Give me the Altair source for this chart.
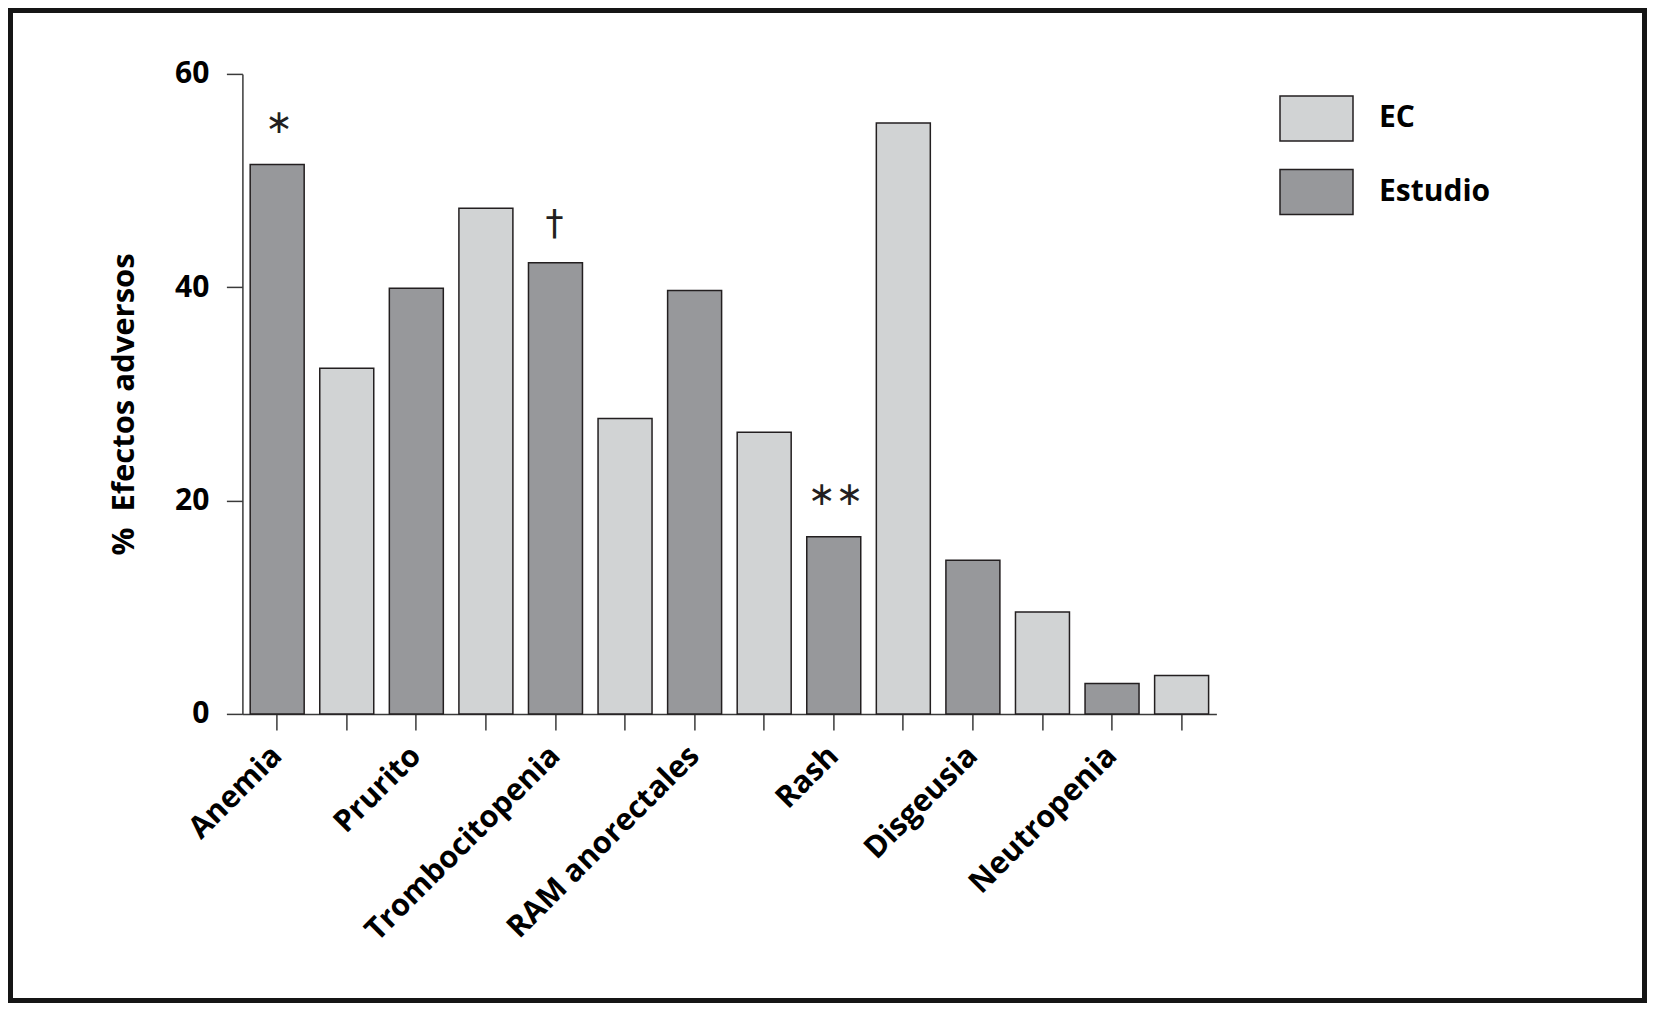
import altair as alt
import pandas as pd

# ---- data ----
categorias = ["Anemia", "Prurito", "Trombocitopenia", "RAM anorectales",
              "Rash", "Disgeusia", "Neutropenia"]
estudio = [51.5, 39.9, 42.3, 39.7, 16.6, 14.4, 2.85]
ec = [32.4, 47.4, 27.7, 26.4, 55.4, 9.55, 3.6]
marcas = ["\u2217", "", "\u2020", "", "\u2217\u2217", "", ""]
grupos = ["EC", "Estudio"]
colores = ["#d1d3d4", "#97989b"]
ticks_y = [0, 20, 40, 60]

rows = []
for c, e, k, m in zip(categorias, estudio, ec, marcas):
    rows.append({"clave": f"{c}|Estudio", "grupo": "Estudio", "valor": e, "marca": m})
    rows.append({"clave": f"{c}|EC", "grupo": "EC", "valor": k, "marca": ""})
df = pd.DataFrame(rows)
orden = list(df["clave"])

FONT = "Open Sans"
W, H = 974, 640
PL, PT = 234.4, 65.9
TOTW, TOTH = 1639, 995

x_enc = alt.X(
    "clave:N", sort=orden,
    scale=alt.Scale(paddingInner=0.224, paddingOuter=0.112),
    axis=alt.Axis(
        title=None,
        labelExpr="split(datum.label,'|')[1]=='Estudio' ? split(datum.label,'|')[0] : ''",
        labelAngle=-45, labelAlign="right", labelBaseline="middle",
        labelFont=FONT, labelFontWeight="bold", labelFontSize=30.5, labelColor="black",
        labelOverlap=False, labelPadding=21, labelLimit=0,
        tickSize=16, tickColor="#3a3a3a", tickWidth=1.5,
        domainColor="#3a3a3a", domainWidth=1.5,
    ),
)
y_enc = alt.Y(
    "valor:Q",
    scale=alt.Scale(domain=[0, 60], nice=False),
    axis=alt.Axis(
        values=ticks_y, grid=False,
        title="%\u00a0 Efectos adversos",
        titleFont=FONT, titleFontWeight="bold", titleFontSize=31, titleColor="black",
        titleAngle=-90, titleAlign="center", titleBaseline="middle",
        titleX=-118, titleY=330,
        labelFont=FONT, labelFontWeight="bold", labelFontSize=30, labelColor="black",
        labelPadding=17.5,
        tickSize=16, tickColor="#3a3a3a", tickWidth=1.5,
        domainColor="#3a3a3a", domainWidth=1.5,
    ),
)

bars = alt.Chart(df).mark_bar(stroke="#231f20", strokeWidth=1.5, opacity=1).encode(
    x=x_enc, y=y_enc,
    color=alt.Color(
        "grupo:N",
        scale=alt.Scale(domain=grupos, range=colores),
        legend=alt.Legend(
            title=None, orient="none", legendX=1036.6, legendY=7,
            symbolType="M-1,-0.616H1V0.616H-1Z", symbolSize=5329,
            symbolStrokeColor="#231f20", symbolStrokeWidth=1.5, symbolOpacity=1,
            labelFont=FONT, labelFontWeight="bold", labelFontSize=30, labelColor="black",
            labelOffset=25, rowPadding=10.5, padding=0,
        ),
    ),
)

stars = alt.Chart(df).transform_filter("indexof(datum.marca, '\u2217') >= 0").mark_text(
    font="DejaVu Sans", fontSize=33, baseline="middle", align="center", dy=-42, dx=2,
    color="#231f20"
).encode(
    x=alt.X("clave:N", sort=orden),
    y=alt.Y("valor:Q"),
    text="marca:N",
)

dagger = alt.Chart(df).transform_filter("datum.marca == '\u2020'").mark_text(
    font="DejaVu Sans", fontSize=36, fontWeight="normal", baseline="middle",
    align="center", dy=-39, dx=-1, color="#231f20"
).encode(
    x=alt.X("clave:N", sort=orden),
    y=alt.Y("valor:Q"),
    text="marca:N",
)

frame = alt.Chart(pd.DataFrame({"f": [0]})).mark_rect(
    fill=None, stroke="#151515", strokeWidth=5
).encode(
    x=alt.value(-PL + 2.5), x2=alt.value(TOTW - PL - 2.5),
    y=alt.value(-PT + 2.5), y2=alt.value(TOTH - PT - 2.5),
)

chart = alt.layer(bars, stars, dagger, frame).properties(
    width=W, height=H,
    background="white",
    autosize=alt.AutoSizeParams(type="none"),
    padding={"left": PL, "top": PT, "right": TOTW - PL - W, "bottom": TOTH - PT - H},
).configure_view(strokeWidth=0, stroke="transparent")

chart.save("out.html", embed_options={"renderer": "svg", "actions": False})
